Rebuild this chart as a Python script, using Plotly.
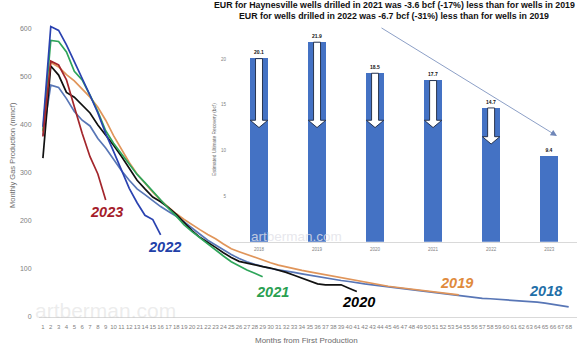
import plotly.graph_objects as go

# ---------------- data ----------------
months = list(range(1, 69))
month_labels = [str(m) for m in months]

prod_2018 = [378, 483, 478, 455, 428, 410, 398, 372, 352, 328, 305, 285, 267, 255, 242, 230,
             220, 210, 198, 185, 172, 160, 150, 140, 130, 122, 115, 110, 105, 101, 98, 96,
             93, 90, 87, 84, 81, 79, 76, 74, 71, 69, 67, 65, 63, 61, 59, 57,
             55, 53, 51, 49, 47, 44, 42, 40, 39, 38, 37, 36, 35, 34, 33, 31,
             29, 26, 23, 21]
prod_2019 = [385, 530, 521, 505, 492, 475, 458, 437, 410, 378, 350, 322, 298, 278, 260, 243,
             228, 215, 203, 192, 182, 172, 163, 152, 142, 136, 130, 124, 118, 113, 108, 104,
             100, 97, 94, 91, 88, 85, 82, 78, 75, 72, 69, 66, 64, 62, 60, 58,
             56, 55, 53, 51, 49, 46]
prod_2020 = [331, 523, 504, 468, 458, 442, 425, 400, 380, 358, 335, 310, 285, 267, 250, 240,
             228, 214, 196, 180, 166, 156, 145, 134, 124, 116, 112, 108, 105, 102, 98, 93,
             87, 81, 75, 69, 67, 67, 67, 60, 53]
prod_2021 = [388, 576, 574, 552, 512, 494, 462, 428, 388, 362, 340, 318, 297, 280, 262, 243,
             226, 210, 192, 178, 165, 152, 140, 127, 115, 106, 98, 91, 84]
prod_2022 = [396, 605, 597, 567, 532, 498, 462, 425, 382, 345, 305, 268, 238, 212, 203, 171]
prod_2023 = [376, 533, 525, 494, 438, 383, 334, 298, 244]

series_names = ["2018", "2019", "2020", "2021", "2022", "2023"]
series_values = [prod_2018, prod_2019, prod_2020, prod_2021, prod_2022, prod_2023]
line_colors = ["#5876b6", "#e0955a", "#111111", "#2ea55a", "#2a42b0", "#a3262c"]
label_colors = ["#1f6fa8", "#e08a3c", "#000000", "#2aa050", "#2140a8", "#a51c2a"]

eur_years = [2018, 2019, 2020, 2021, 2022, 2023]
eur_values = [20.1, 21.9, 18.5, 17.7, 14.7, 9.4]
eur_arrow_tips = [12.5, 12.5, 12.5, 12.5, 10.7]   # white arrows in first five bars

title_lines = [
    "EUR for Haynesville wells drilled in 2021 was -3.6 bcf (-17%) less than for wells in 2019",
    "EUR for wells drilled in 2022 was -6.7 bcf (-31%) less than for wells in 2019",
]

# ---------------- geometry helpers ----------------
W, H = 584, 350
ML, MR, MT, MB = 39, 7, 5, 33
PW = W - ML - MR
PH = H - MT - MB


def pxx(x):
    return (x - ML) / PW


def pxy(y):
    return (H - MB - y) / PH


FONT = "Liberation Sans, Arial, sans-serif"

fig = go.Figure()

for name, vals, col in zip(series_names, series_values, line_colors):
    fig.add_trace(go.Scatter(
        x=months[:len(vals)], y=vals, mode="lines", name=name,
        line=dict(color=col, width=1.7), showlegend=False, hoverinfo="skip"))

fig.add_trace(go.Bar(
    x=eur_years, y=eur_values, text=[f"{v:.1f}" for v in eur_values],
    textposition="outside", cliponaxis=False,
    textfont=dict(size=5, color="#111111", family=FONT, weight="bold"),
    marker=dict(color="#4472c4", line=dict(width=0)), width=0.31,
    xaxis="x2", yaxis="y2", showlegend=False, hoverinfo="skip"))

# white down-arrows inside bars
shapes = []
sw, hw, head = 0.06, 0.15, 0.8
for yr, top, tip in zip(eur_years, eur_values, eur_arrow_tips):
    top = top - 0.05
    neck = tip + head
    path = (f"M {yr-sw},{top} L {yr+sw},{top} L {yr+sw},{neck} L {yr+hw},{neck} "
            f"L {yr},{tip} L {yr-hw},{neck} L {yr-sw},{neck} Z")
    shapes.append(dict(type="path", path=path, xref="x2", yref="y2",
                       fillcolor="white", line=dict(color="#1c2740", width=0.9)))

annotations = []
# titles
for txt, cy in zip(title_lines, [5.5, 16.5]):
    annotations.append(dict(text=f"<b>{txt}</b>", x=pxx(394), y=pxy(cy), xref="paper", yref="paper",
                            showarrow=False, xanchor="center", yanchor="middle",
                            font=dict(size=8.8, color="#111111", family=FONT)))
# trend arrow
annotations.append(dict(x=pxx(557), y=pxy(136), xref="paper", yref="paper", text="",
                        showarrow=True, ax=380 - 557, ay=27 - 136, arrowhead=2, arrowsize=1.6,
                        arrowwidth=0.8, arrowcolor="#6f86b8"))
# year labels
label_pos = [(546, 291), (456, 283), (358, 302), (272, 292), (164, 247), (106, 212)]
for name, col, (lx, ly) in zip(series_names, label_colors, label_pos):
    annotations.append(dict(text=name, x=pxx(lx), y=pxy(ly), xref="paper", yref="paper",
                            showarrow=False, xanchor="center", yanchor="middle",
                            font=dict(size=14.5, color=col, family=FONT, weight="bold", style="italic")))
# axis titles
annotations.append(dict(text="Monthly Gas Production (mmcf)", x=pxx(12), y=pxy(155), xref="paper",
                        yref="paper", showarrow=False, textangle=-90, xanchor="center", yanchor="middle",
                        font=dict(size=7.5, color="#6b6b6b", family=FONT)))
annotations.append(dict(text="Months from First Production", x=pxx(306), y=pxy(340), xref="paper",
                        yref="paper", showarrow=False, xanchor="center", yanchor="middle",
                        font=dict(size=8, color="#6b6b6b", family=FONT)))
annotations.append(dict(text="Estimated Ultimate Recovery (bcf)", x=pxx(214), y=pxy(140), xref="paper",
                        yref="paper", showarrow=False, textangle=-90, xanchor="center", yanchor="middle",
                        font=dict(size=4.8, color="#6b6b6b", family=FONT)))
# watermarks
annotations.append(dict(text="artberman.com", x=pxx(105), y=pxy(310), xref="paper", yref="paper",
                        showarrow=False, xanchor="center", yanchor="middle",
                        font=dict(size=21, color="rgba(200,200,200,0.35)", family=FONT)))
annotations.append(dict(text="artberman.com", x=pxx(296), y=pxy(236), xref="paper", yref="paper",
                        showarrow=False, xanchor="center", yanchor="middle",
                        font=dict(size=13.5, color="rgba(225,225,232,0.8)", family=FONT)))

fig.update_layout(
    width=W, height=H,
    margin=dict(l=ML, r=MR, t=MT, b=MB),
    paper_bgcolor="white", plot_bgcolor="rgba(0,0,0,0)",
    font=dict(family=FONT),
    showlegend=False,
    bargap=0,
    shapes=shapes,
    annotations=annotations,
    xaxis=dict(range=[0.5, 0.5 + PW / 7.847], tickmode="array", tickvals=months, ticktext=month_labels,
               tickfont=dict(size=6, color="#7f7f7f"), showline=True, linecolor="#d9d9d9",
               linewidth=1, showgrid=False, zeroline=False, ticks="outside", ticklen=4,
               tickcolor="rgba(0,0,0,0)", tickangle=0),
    yaxis=dict(range=[0, 650], tickvals=[0, 100, 200, 300, 400, 500, 600],
               tickfont=dict(size=7, color="#7f7f7f"), showgrid=False, zeroline=False,
               ticks="outside", ticklen=5, tickcolor="rgba(0,0,0,0)"),
    xaxis2=dict(domain=[pxx(230), 1.0], anchor="y2", range=[2017.5, 2023.48], tickvals=eur_years,
                tickfont=dict(size=4.5, color="#7f7f7f"), showline=True, linecolor="#d9d9d9",
                showgrid=False, zeroline=False, ticks="outside", ticklen=3,
                tickcolor="rgba(0,0,0,0)"),
    yaxis2=dict(domain=[pxy(241.7), pxy(31.7)], anchor="x2", range=[0, 23], tickvals=[5, 10, 15, 20],
                tickfont=dict(size=4.5, color="#7f7f7f"), showgrid=False, zeroline=False,
                ticks="outside", ticklen=2, tickcolor="rgba(0,0,0,0)"),
)

fig.write_html("out.html")
